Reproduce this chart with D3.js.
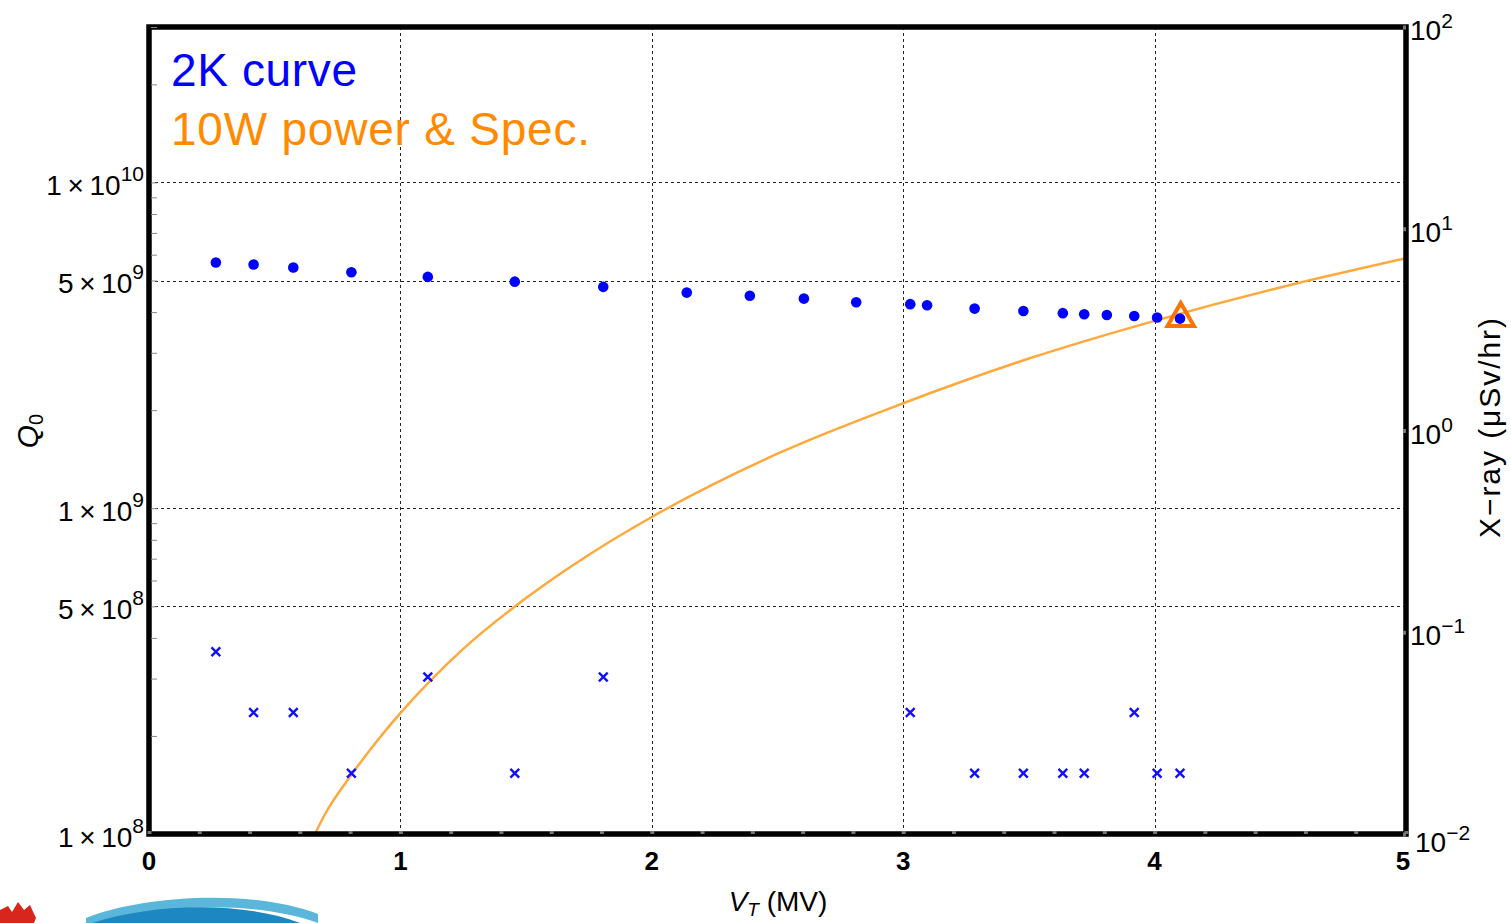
<!DOCTYPE html>
<html>
<head>
<meta charset="utf-8">
<script src="https://cdn.jsdelivr.net/npm/d3@7"></script>
<style>
    body { margin: 0; background: #fff; }
    svg { display: block; font-family: "Liberation Sans", Arial, sans-serif; }
</style>
</head>
<body>
<div id="chart"></div>
<script>
// 2K curve: Q0 vs accelerating voltage
const vT = [0.266, 0.416, 0.574, 0.805, 1.109, 1.455, 1.807, 2.139, 2.390, 2.605, 2.813,
            3.028, 3.095, 3.284, 3.478, 3.635, 3.720, 3.810, 3.919, 4.010, 4.101];
const q0 = [5.68e9, 5.60e9, 5.48e9, 5.30e9, 5.13e9, 4.96e9, 4.78e9, 4.59e9, 4.49e9, 4.40e9, 4.29e9,
            4.23e9, 4.20e9, 4.10e9, 4.03e9, 3.97e9, 3.94e9, 3.92e9, 3.89e9, 3.85e9, 3.82e9];

// X-ray readings (right axis, uSv/hr)
const xrayV = [0.266, 0.416, 0.574, 0.805, 1.109, 1.455, 1.807, 3.028, 3.284, 3.478, 3.635, 3.720, 3.919, 4.010, 4.101];
const xray = [0.08, 0.04, 0.04, 0.02, 0.06, 0.02, 0.06, 0.04, 0.02, 0.02, 0.02, 0.02, 0.04, 0.02, 0.02];

// 10 W power line
const specV = [0.66, 0.7, 0.8, 0.9, 1.0, 1.25, 1.5, 1.75, 2.0, 2.5, 3.0, 3.5, 4.0, 4.5, 5.0];
const specQ = [1.0e8, 1.15e8, 1.5e8, 1.9e8, 2.35e8, 3.7e8, 5.3e8, 7.2e8, 9.4e8, 1.47e9, 2.1e9, 2.88e9, 3.76e9, 4.76e9, 5.85e9];

// spec point
const specPointV = 4.1;
const specPointQ = 3.8e9;

// ticks
const xTicks = [0, 1, 2, 3, 4, 5];
const qTicks = [1e8, 5e8, 1e9, 5e9, 1e10];
const qMantissa = ['1', '5', '1', '5', '1'];
const qExponent = ['8', '8', '9', '9', '10'];
const xrayTicks = [0.01, 0.1, 1, 10, 100];
const xrayExponent = ['\u22122', '\u22121', '0', '1', '2'];
const vGrid = [1, 2, 3, 4];
const qGrid = [5e8, 1e9, 5e9, 1e10];

const W = 1511, H = 923;
const plot = { left: 149, right: 1406, top: 27, bottom: 834 };

const svg = d3.select('#chart')
    .append('svg')
    .attr('width', W)
    .attr('height', H);

const x = d3.scaleLinear().domain([0, 5]).range([plot.left, plot.right]);
const yQ = d3.scaleLog().domain([1e8, 3e10]).range([plot.bottom, plot.top]);
const yX = d3.scaleLog().domain([0.01, 100]).range([plot.bottom, plot.top]);

svg.append('defs').append('clipPath').attr('id', 'clip')
    .append('rect')
    .attr('x', plot.left).attr('y', plot.top)
    .attr('width', plot.right - plot.left).attr('height', plot.bottom - plot.top);

// Grid lines
const grid = svg.append('g')
    .attr('stroke', '#222')
    .attr('stroke-width', 1)
    .attr('stroke-dasharray', '3,3');

grid.selectAll('.vgrid')
    .data(vGrid)
    .join('line')
    .attr('x1', d => Math.round(x(d)) + 0.5).attr('x2', d => Math.round(x(d)) + 0.5)
    .attr('y1', plot.top).attr('y2', plot.bottom);

grid.selectAll('.hgrid')
    .data(qGrid)
    .join('line')
    .attr('x1', plot.left).attr('x2', plot.right)
    .attr('y1', d => Math.round(yQ(d)) + 0.5).attr('y2', d => Math.round(yQ(d)) + 0.5);

// Legend
svg.append('text')
    .attr('x', 171).attr('y', 86)
    .attr('font-size', 46)
    .attr('fill', '#0000ff')
    .attr('textLength', 186)
    .text('2K curve');

svg.append('text')
    .attr('x', 171).attr('y', 145)
    .attr('font-size', 46)
    .attr('fill', '#ff8a00')
    .attr('textLength', 419)
    .text('10W power & Spec.');

// 10 W power curve
const line = d3.line()
    .x((d, i) => x(specV[i]))
    .y(d => yQ(d))
    .curve(d3.curveMonotoneX);

svg.append('path')
    .datum(specQ)
    .attr('clip-path', 'url(#clip)')
    .attr('fill', 'none')
    .attr('stroke', '#ffa83c')
    .attr('stroke-width', 2.5)
    .attr('d', line);

// X-ray crosses
svg.append('g')
    .selectAll('path')
    .data(xray)
    .join('path')
    .attr('transform', (d, i) => `translate(${x(xrayV[i])},${yX(d)})`)
    .attr('d', d3.symbol().type(d3.symbolTimes).size(52))
    .attr('fill', 'none')
    .attr('stroke', '#1010ff')
    .attr('stroke-width', 2.4);

// Q0 dots
svg.append('g')
    .selectAll('circle')
    .data(q0)
    .join('circle')
    .attr('cx', (d, i) => x(vT[i]))
    .attr('cy', d => yQ(d))
    .attr('r', 5.3)
    .attr('fill', '#0000ff');

// Spec triangle
svg.append('path')
    .attr('transform', `translate(${x(specPointV) + 1},${yQ(specPointQ) - 1})`)
    .attr('d', d3.symbol().type(d3.symbolTriangle2).size(500))
    .attr('fill', 'none')
    .attr('stroke', '#ff7400')
    .attr('stroke-width', 4);

// Frame
svg.append('rect')
    .attr('x', plot.left).attr('y', plot.top)
    .attr('width', plot.right - plot.left).attr('height', plot.bottom - plot.top)
    .attr('fill', 'none')
    .attr('stroke', '#000')
    .attr('stroke-width', 5.5);

// Left minor/major ticks (inside the frame)
const leftTicks = svg.append('g')
    .attr('transform', `translate(${plot.left + 2},0)`)
    .call(d3.axisRight(yQ).tickValues(yQ.ticks().filter(d => d > 1e8)).tickSize(6).tickFormat(''));
leftTicks.select('.domain').remove();
leftTicks.selectAll('line').attr('stroke', '#888');

// Bottom ticks
const bottomTicks = svg.append('g')
    .attr('transform', `translate(0,${plot.bottom})`)
    .call(d3.axisTop(x).tickValues(d3.range(0, 26).map(i => i / 5)).tickSize(3).tickFormat(''));
bottomTicks.select('.domain').remove();
bottomTicks.selectAll('line').attr('stroke', '#777').attr('stroke-width', 4);

// Right ticks
const rightTicks = svg.append('g')
    .attr('transform', `translate(${plot.right},0)`)
    .call(d3.axisLeft(yX).tickValues(xrayTicks).tickSize(3).tickFormat(''));
rightTicks.select('.domain').remove();
rightTicks.selectAll('line').attr('stroke', '#777').attr('stroke-width', 4);

// X tick labels
svg.append('g')
    .selectAll('text')
    .data(xTicks)
    .join('text')
    .attr('x', d => x(d) - (d === 5 ? 3 : 0))
    .attr('y', 870)
    .attr('text-anchor', 'middle')
    .attr('font-size', 26)
    .attr('font-weight', 'bold')
    .text(d => d);

// Left tick labels
const qLabels = svg.append('g')
    .selectAll('text')
    .data(qTicks)
    .join('text')
    .attr('x', 144)
    .attr('y', d => yQ(d) + 12.5)
    .attr('text-anchor', 'end')
    .attr('font-size', 28);
qLabels.append('tspan').text((d, i) => qMantissa[i] + '\u2009\u00d7\u200910');
qLabels.append('tspan')
    .attr('dy', -14)
    .attr('font-size', 21)
    .text((d, i) => qExponent[i]);

// Right tick labels
const xLabels = svg.append('g')
    .selectAll('text')
    .data(xrayTicks)
    .join('text')
    .attr('x', (d, i) => (i === 0 ? 1415 : 1410))
    .attr('y', (d, i) => yX(d) + (i === 0 ? 18 : 13))
    .attr('font-size', 28);
xLabels.append('tspan').text('10');
xLabels.append('tspan')
    .attr('dy', -12)
    .attr('font-size', 21)
    .text((d, i) => xrayExponent[i]);

// Axis titles
const xTitle = svg.append('text')
    .attr('x', 778).attr('y', 911)
    .attr('text-anchor', 'middle')
    .attr('font-size', 28);
xTitle.append('tspan').attr('font-style', 'italic').text('V');
xTitle.append('tspan').attr('font-style', 'italic').attr('font-size', 19).attr('dy', 5).text('T');
xTitle.append('tspan').attr('dy', -5).text(' (MV)');

const qTitle = svg.append('text')
    .attr('transform', 'translate(38,431) rotate(-90)')
    .attr('text-anchor', 'middle')
    .attr('font-size', 30);
qTitle.append('tspan').attr('font-style', 'italic').text('Q');
qTitle.append('tspan').attr('font-size', 20).attr('dy', 5).text('0');

svg.append('text')
    .attr('transform', 'translate(1500,428) rotate(-90)')
    .attr('text-anchor', 'middle')
    .attr('font-size', 30)
    .attr('textLength', 220)
    .attr('lengthAdjust', 'spacing')
    .text('X\u2212ray (\u03bcSv/hr)');

// Slide logo fragments, bottom-left corner
svg.append('path')
    .attr('d', 'M0,910 L8,906 L12,912 L18,902 L24,910 L30,905 L36,918 L34,923 L0,923 Z')
    .attr('fill', '#d9261c');
svg.append('path')
    .attr('d', 'M86,918 C140,896 250,888 318,914 L318,923 C260,902 170,902 98,923 L86,923 Z')
    .attr('fill', '#5bb6dc');
svg.append('path')
    .attr('d', 'M92,923 C150,904 240,900 300,923 Z')
    .attr('fill', '#1d87c1');
</script>
</body>
</html>
